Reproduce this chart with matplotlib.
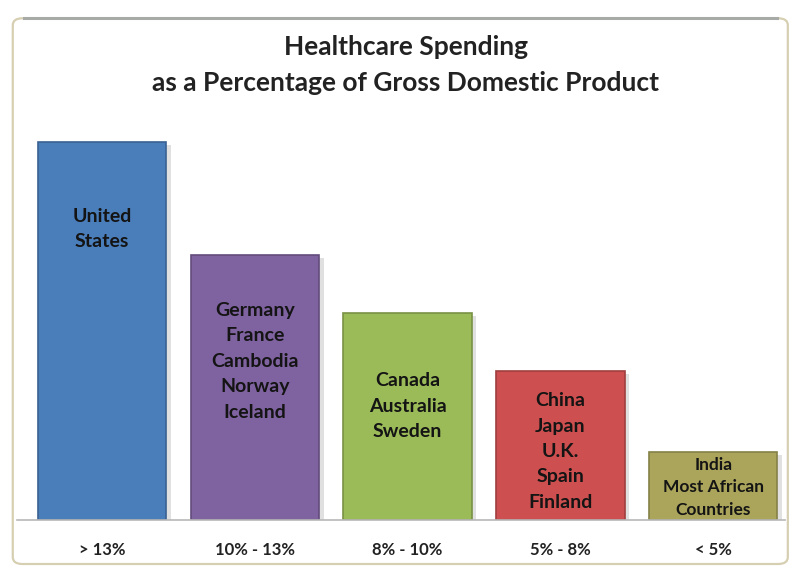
import matplotlib.pyplot as plt
import matplotlib.colors as mcolors
from matplotlib.patches import FancyBboxPatch

plt.rcParams['font.family'] = ['Lato', 'DejaVu Sans']

# spending brackets, relative bar heights and the countries in each bracket
brackets = ['> 13%', '10% - 13%', '8% - 10%', '5% - 8%', '< 5%']
heights = [15.0, 10.5, 8.2, 5.9, 2.7]
groups = [
    'United\nStates',
    'Germany\nFrance\nCambodia\nNorway\nIceland',
    'Canada\nAustralia\nSweden',
    'China\nJapan\nU.K.\nSpain\nFinland',
    'India\nMost African\nCountries',
]
bar_colors = ['#4a7ebb', '#7f62a0', '#9bbb59', '#cd4f4f', '#aba55c']
label_frac = [0.77, 0.60, 0.55, 0.46, 0.48]
label_size = [14, 14, 14, 14, 12.5]
label_spacing = [1.62, 1.6, 1.6, 1.6, 1.5]

fig = plt.figure(figsize=(7.99, 5.72), dpi=100)

# rounded panel behind everything
panel = FancyBboxPatch((0.016, 0.014), 0.97, 0.954,
                       boxstyle='round,pad=0,rounding_size=0.012',
                       transform=fig.transFigure, facecolor='white',
                       edgecolor='#d6cfb2', linewidth=1.6, zorder=0)
fig.patches.append(panel)
fig.add_artist(plt.Line2D([0.03, 0.972], [0.968, 0.968], transform=fig.transFigure,
                          color='#a8aaa8', linewidth=2.2, zorder=1))

fig.text(0.508, 0.918, 'Healthcare Spending', ha='center', va='center',
         fontsize=19, fontweight='bold', color='#222222', zorder=3)
fig.text(0.508, 0.855, 'as a Percentage of Gross Domestic Product', ha='center',
         va='center', fontsize=19, fontweight='bold', color='#222222', zorder=3)

ax = fig.add_axes([17 / 799, 52 / 572, 768 / 799, 0.705])
ax.set_zorder(2)
ax.set_facecolor('none')
x = list(range(len(brackets)))
width = 0.84

for i, h in enumerate(heights):
    c = bar_colors[i]
    dark = [v * 0.78 for v in mcolors.to_rgb(c)]
    # soft drop shadow
    ax.bar(i + 0.03, h, width=width, bottom=-0.12, color='#000000', alpha=0.12,
           zorder=1)
    ax.bar(i, h, width=width, color=c, edgecolor=dark, linewidth=1.2, zorder=2)
    ax.text(i, h * label_frac[i], groups[i], ha='center', va='center',
            fontsize=label_size[i], fontweight='bold', color='#141414',
            linespacing=label_spacing[i], zorder=3)

ax.set_xlim(-0.557, 4.47)
ax.set_ylim(0, 15.0 * 0.705 / 0.661)
ax.set_xticks(x)
ax.set_xticklabels(brackets, fontsize=12, fontweight='bold', color='#222222')
ax.tick_params(axis='x', length=0, pad=16)
ax.set_yticks([])
for s in ['top', 'right', 'left']:
    ax.spines[s].set_visible(False)
ax.spines['bottom'].set_color('#b8b8b8')
ax.spines['bottom'].set_linewidth(1.2)

fig.savefig('out.png', dpi=100)
